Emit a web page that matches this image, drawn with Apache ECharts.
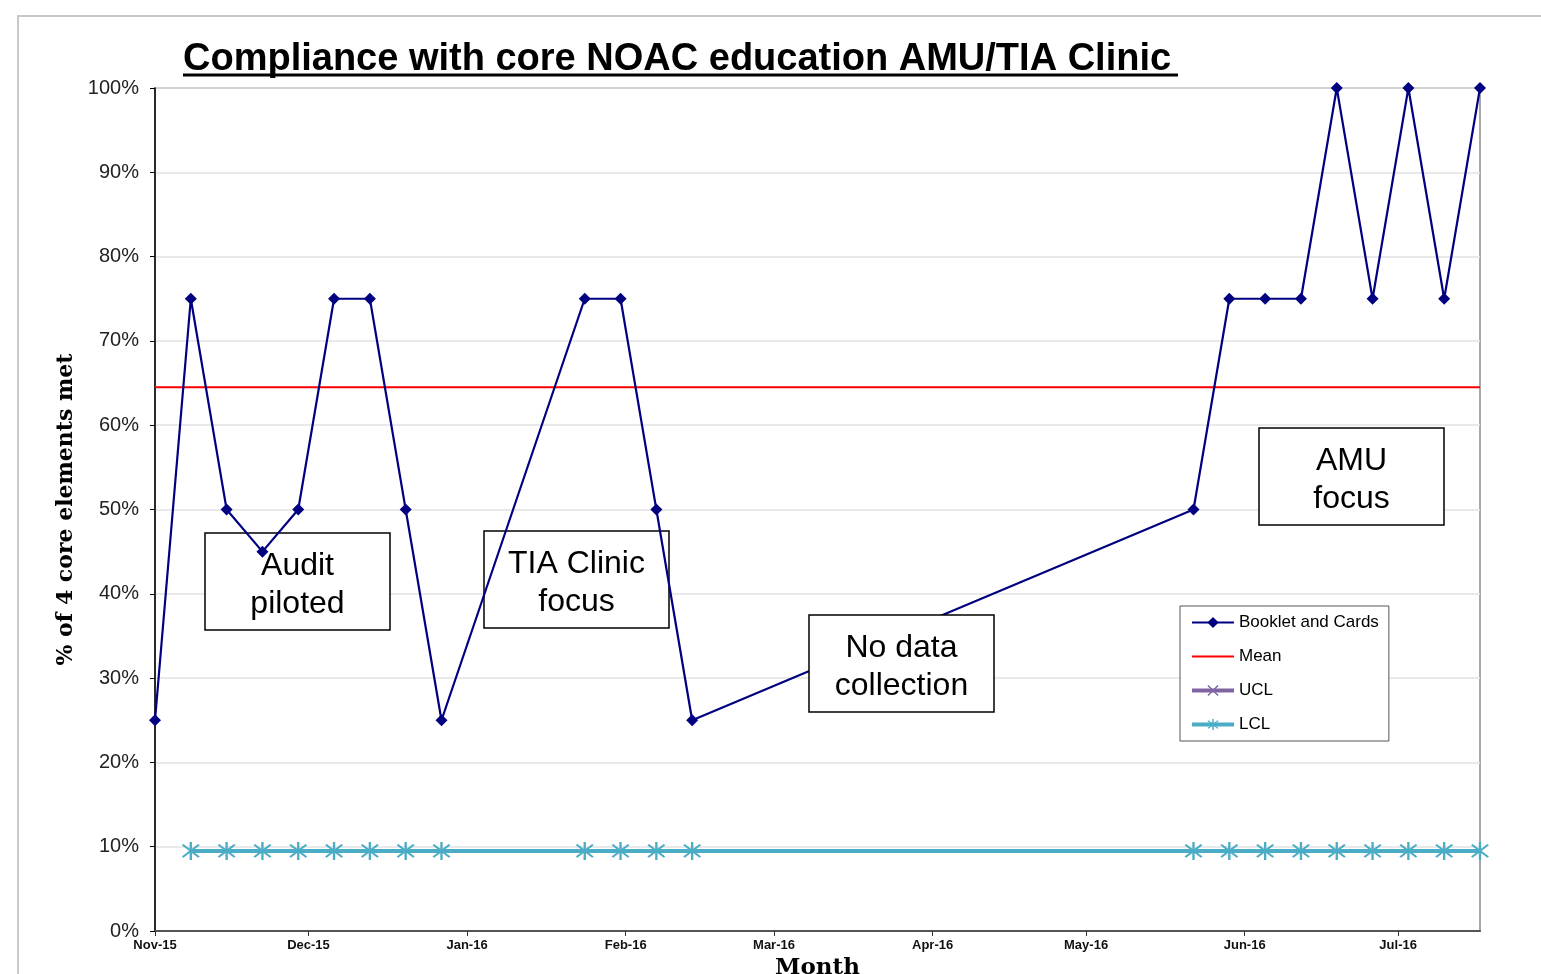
<!DOCTYPE html>
<html>
<head>
<meta charset="utf-8">
<title>Compliance with core NOAC education</title>
<script src="https://cdn.jsdelivr.net/npm/echarts@6/dist/echarts.min.js"></script>
<style>
  html, body { margin: 0; padding: 0; background: #fff; }
  #chart { width: 1541px; height: 974px; }
</style>
</head>
<body>
<div id="chart"></div>
<script>
// weekly audit dates (Sundays) and % of the 4 core elements met
const weeks = [
  '2015-11-01', '2015-11-08', '2015-11-15', '2015-11-22', '2015-11-29',
  '2015-12-06', '2015-12-13', '2015-12-20', '2015-12-27',
  '2016-01-24', '2016-01-31', '2016-02-07', '2016-02-14',
  '2016-05-22', '2016-05-29', '2016-06-05', '2016-06-12',
  '2016-06-19', '2016-06-26', '2016-07-03', '2016-07-10', '2016-07-17'
]
const bookletAndCards = [25, 75, 50, 45, 50, 75, 75, 50, 25, 75, 75, 50, 25, 50, 75, 75, 75, 100, 75, 100, 75, 100]
const meanValue = 64.5
const uclValue = 119.5   // above 100%, so it never shows inside the plot
const lclValue = 9.5

const monthTicks = ['2015-11-01', '2015-12-01', '2016-01-01', '2016-02-01', '2016-03-01',
  '2016-04-01', '2016-05-01', '2016-06-01', '2016-07-01']
const monthLabels = ['Nov-15', 'Dec-15', 'Jan-16', 'Feb-16', 'Mar-16', 'Apr-16', 'May-16', 'Jun-16', 'Jul-16']

const annotations = [
  { lines: ['Audit', 'piloted'], x: 205, y: 533, z: 1 },
  { lines: ['TIA Clinic', 'focus'], x: 484, y: 531, z: 1 },
  { lines: ['No data', 'collection'], x: 809, y: 615, z: 10 },
  { lines: ['AMU', 'focus'], x: 1259, y: 428, z: 10 }
]

// day number (UTC) so the x axis is a plain value axis
const toDay = s => Date.parse(s + 'T00:00:00Z') / 86400000
const tickDays = monthTicks.map(toDay)

// asterisk made from three filled bars (vertical + two diagonals)
const asterisk = 'path://M9 0L11 0L11 20L9 20Z' +
  'M3.7 2.3L17.7 16.3L16.3 17.7L2.3 3.7Z' +
  'M16.3 2.3L17.7 3.7L3.7 17.7L2.3 16.3Z'
const cross = 'path://M3.7 2.3L17.7 16.3L16.3 17.7L2.3 3.7Z' +
  'M16.3 2.3L17.7 3.7L3.7 17.7L2.3 16.3Z'

const chart = echarts.init(document.getElementById('chart'), null, { renderer: 'canvas' })

const boxW = 185, boxH = 97
const graphics = [
  // slide frame
  { type: 'rect', z: 0, silent: true, shape: { x: 18, y: 16, width: 1600, height: 1000 },
    style: { fill: null, stroke: '#c8c8c8', lineWidth: 2 } },
  // title underline
  { type: 'line', z: 5, shape: { x1: 183, y1: 75, x2: 1178, y2: 75 },
    style: { stroke: '#000', lineWidth: 3 } }
]
annotations.forEach(a => {
  graphics.push({
    type: 'group', x: a.x, y: a.y, z: a.z,
    children: [
      { type: 'rect', z: a.z, shape: { x: 0, y: 0, width: boxW, height: boxH },
        style: { fill: '#fff', stroke: '#000', lineWidth: 1.5 } },
      { type: 'text', z: a.z + 1, x: boxW / 2, y: boxH / 2 + 4,
        style: { text: a.lines.join('\n'), fontFamily: 'Arial, "Liberation Sans"', fontSize: 32,
          lineHeight: 38, fill: '#000', align: 'center', verticalAlign: 'middle' } }
    ]
  })
})

chart.setOption({
  animation: false,
  backgroundColor: '#fff',
  title: {
    text: 'Compliance with core NOAC education AMU/TIA Clinic',
    left: 178, top: 36,
    textStyle: { fontFamily: 'Arial, "Liberation Sans"', fontSize: 38, fontWeight: 'bold', color: '#000' }
  },
  grid: {
    left: 155, right: 61, top: 88, bottom: 43,
    outerBoundsMode: 'none',
    containLabel: false,
    show: true, borderColor: '#8c8c8c', borderWidth: 1.5, backgroundColor: 'transparent'
  },
  legend: {
    orient: 'vertical',
    left: 1180, top: 606,
    padding: [8, 10, 8, 10],
    itemWidth: 42, itemHeight: 14, itemGap: 17,
    backgroundColor: '#fff', borderColor: '#555', borderWidth: 1,
    lineStyle: { width: 'inherit' },
    textStyle: { fontFamily: 'Arial, "Liberation Sans"', fontSize: 17, color: '#000' },
    data: [
      'Booklet and Cards',
      { name: 'Mean', itemStyle: { opacity: 0 } },
      'UCL',
      'LCL'
    ]
  },
  xAxis: {
    type: 'value',
    min: toDay('2015-11-01'),
    max: toDay('2016-07-17'),
    name: 'Month',
    nameLocation: 'middle',
    nameGap: 24,
    nameTextStyle: { fontFamily: '"DejaVu Serif", serif', fontWeight: 'bold', fontSize: 23, color: '#000', verticalAlign: 'top' },
    axisLine: { lineStyle: { color: '#555', width: 2 } },
    axisTick: { show: true, length: 5, customValues: tickDays, lineStyle: { color: '#333' } },
    axisLabel: {
      customValues: tickDays,
      margin: 8,
      showMinLabel: true, showMaxLabel: true,
      fontFamily: '"Liberation Sans Narrow", "Arial Narrow", Arial',
      fontSize: 13, fontWeight: 'bold', color: '#111',
      formatter: v => {
        const i = tickDays.indexOf(v)
        return i >= 0 ? monthLabels[i] : ''
      }
    },
    splitLine: { show: false }
  },
  yAxis: {
    type: 'value',
    min: 0, max: 100, interval: 10,
    name: '% of 4 core elements met',
    nameLocation: 'middle',
    nameGap: 78,
    nameTextStyle: { fontFamily: '"DejaVu Serif", serif', fontWeight: 'bold', fontSize: 22, color: '#000' },
    axisLine: { show: true, lineStyle: { color: '#000', width: 1.5 } },
    axisTick: { show: true, length: 5, lineStyle: { color: '#000' } },
    axisLabel: {
      formatter: '{value}%', margin: 16,
      fontFamily: 'Arial, "Liberation Sans"', fontSize: 20, color: '#222'
    },
    splitLine: { lineStyle: { color: '#e2e2e2', width: 1.5 } }
  },
  graphic: graphics,
  series: [
    {
      name: 'Booklet and Cards',
      type: 'line',
      z: 3,
      data: weeks.map((d, i) => [toDay(d), bookletAndCards[i]]),
      symbol: 'diamond', symbolSize: 12,
      lineStyle: { color: '#000080', width: 2.2 },
      itemStyle: { color: '#000080' }
    },
    {
      name: 'Mean',
      type: 'line',
      z: 2,
      data: weeks.map(d => [toDay(d), meanValue]),
      symbol: 'none',
      lineStyle: { color: '#ff0000', width: 2 },
      itemStyle: { color: '#ff0000' }
    },
    {
      name: 'UCL',
      type: 'line',
      z: 2,
      data: weeks.slice(1).map(d => [toDay(d), uclValue]),
      symbol: cross, symbolSize: 14,
      lineStyle: { color: '#8064a2', width: 4 },
      itemStyle: { color: '#8064a2' }
    },
    {
      name: 'LCL',
      type: 'line',
      z: 2,
      clip: false,
      data: weeks.slice(1).map(d => [toDay(d), lclValue]),
      symbol: asterisk, symbolSize: 18,
      lineStyle: { color: '#4bacc6', width: 4 },
      itemStyle: { color: '#4bacc6' }
    }
  ]
})
</script>
</body>
</html>
